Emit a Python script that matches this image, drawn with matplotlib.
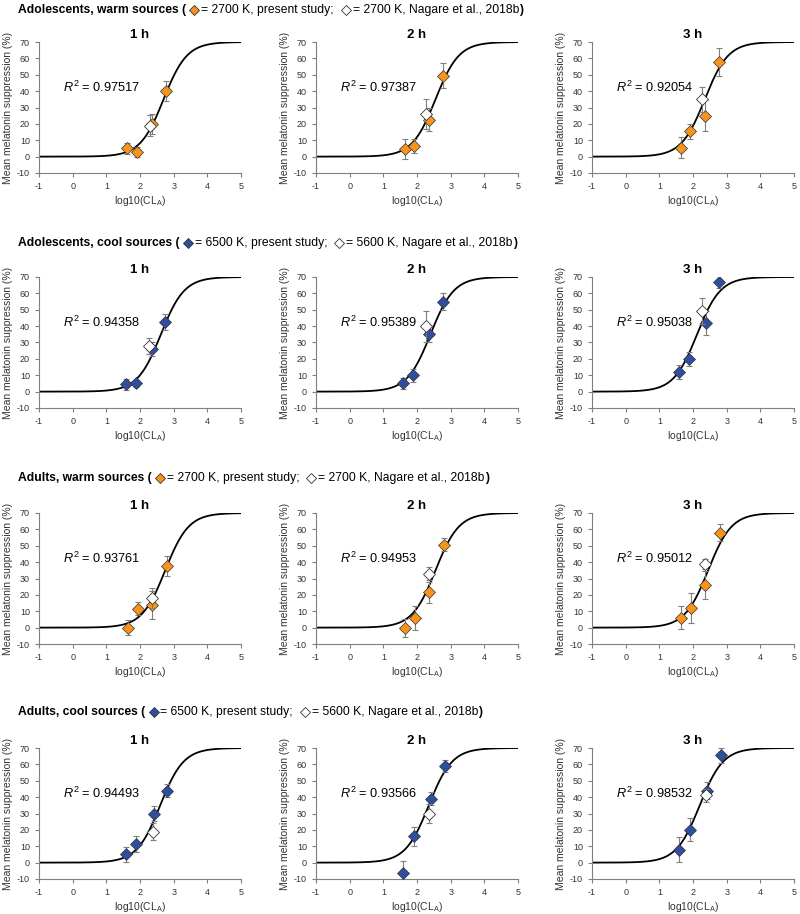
import numpy as np
import matplotlib.pyplot as plt
from matplotlib.lines import Line2D

plt.rcParams['font.family'] = ['Liberation Sans', 'DejaVu Sans']
plt.rcParams['mathtext.fontset'] = 'custom'
plt.rcParams['mathtext.rm'] = 'Liberation Sans'
plt.rcParams['mathtext.it'] = 'Liberation Sans:italic'
plt.rcParams['axes.unicode_minus'] = False

ORANGE = '#F7941D'
BLUE = '#2F4E9F'

# ---- data (row-major: 4 groups x 3 durations) ----
groups = ['Adolescents, warm sources', 'Adolescents, cool sources',
          'Adults, warm sources', 'Adults, cool sources']
cct_present = ['2700 K', '6500 K', '2700 K', '6500 K']
cct_nagare = ['2700 K', '5600 K', '2700 K', '5600 K']
group_colors = [ORANGE, BLUE, ORANGE, BLUE]
durations = ['1 h', '2 h', '3 h']

r2_values = [[0.97517, 0.97387, 0.92054],
             [0.94358, 0.95389, 0.95038],
             [0.93761, 0.94953, 0.95012],
             [0.94493, 0.93566, 0.98532]]

# fitted logistic curve: max suppression, log10(CL_A) at half max, slope
fit_max = 70.0
fit_x50 = [[2.70, 2.55, 2.35],
           [2.62, 2.40, 2.12],
           [2.75, 2.55, 2.45],
           [2.60, 2.35, 2.20]]
fit_slope = 1.25

# present study (filled diamonds)
x_present = [[[1.62, 1.92, 2.37, 2.78], [1.63, 1.92, 2.36, 2.78], [1.63, 1.91, 2.37, 2.78]],
             [[1.58, 1.87, 2.37, 2.75], [1.58, 1.87, 2.37, 2.76], [1.59, 1.88, 2.38, 2.77]],
             [[1.65, 1.95, 2.37, 2.80], [1.65, 1.95, 2.37, 2.80], [1.65, 1.95, 2.37, 2.80]],
             [[1.57, 1.89, 2.42, 2.80], [1.57, 1.90, 2.42, 2.82], [1.57, 1.90, 2.43, 2.82]]]
y_present = [[[5, 3, 20, 40], [4.5, 6.5, 22.5, 49.5], [5.5, 15.5, 25, 58]],
             [[4.5, 5, 26, 42.5], [5, 10, 35, 55], [12, 20, 42, 67]],
             [[0, 11.5, 14, 37.5], [0, 6, 21.5, 50.5], [6, 12, 26, 58]],
             [[5, 11.5, 30, 44], [-6.5, 16, 39, 59], [8, 20, 44, 65.5]]]
e_present = [[[3.5, 3, 6, 6], [6, 4, 7, 7.5], [6.5, 4.5, 9.5, 8.5]],
             [[3.5, 2, 4.5, 5], [3.5, 4, 5, 5], [4, 4.5, 7.5, 3.5]],
             [[4.5, 4, 8.5, 6], [5.5, 7.5, 6.5, 4], [7, 9, 8.5, 5]],
             [[4.5, 5, 4.5, 4], [7.5, 6, 4, 3.5], [7.5, 7, 5, 4.5]]]

# Nagare et al., 2018b (open diamonds)
x_nagare = [[2.30, 2.28, 2.28],
            [2.28, 2.27, 2.27],
            [2.36, 2.37, 2.37],
            [2.38, 2.37, 2.39]]
y_nagare = [[19, 26, 35],
            [28, 40, 49],
            [18, 33, 39],
            [19, 30, 41]]
e_nagare = [[6.5, 9, 7.5],
            [5, 9.5, 8],
            [6, 4, 3],
            [5, 6, 4]]

# ---- layout (pixels) ----
W, H = 800, 914
fig = plt.figure(figsize=(W / 100, H / 100), dpi=100)
col_left = [39, 316, 592]
row_top = [42, 277, 513, 748]
ax_w, ax_h = 202, 131
header_y = [10, 243, 478, 712]

xs = np.linspace(-1, 5, 400)
GRAY = '#7f7f7f'

for i in range(4):
    for j in range(3):
        ax = fig.add_axes([col_left[j] / W, 1 - (row_top[i] + ax_h) / H, ax_w / W, ax_h / H])
        curve = fit_max / (1 + 10 ** (-(xs - fit_x50[i][j]) * fit_slope))
        ax.plot(xs, curve, color='black', lw=1.3, zorder=2)
        ax.errorbar(x_present[i][j], y_present[i][j], yerr=e_present[i][j], fmt='none',
                    ecolor=GRAY, elinewidth=0.8, capsize=2, capthick=0.8, zorder=3)
        ax.plot(x_present[i][j], y_present[i][j], 'D', ms=6, mfc=group_colors[i],
                mec='#333333', mew=0.5, ls='none', zorder=4)
        ax.errorbar([x_nagare[i][j]], [y_nagare[i][j]], yerr=[e_nagare[i][j]], fmt='none',
                    ecolor=GRAY, elinewidth=0.8, capsize=2, capthick=0.8, zorder=5)
        ax.plot([x_nagare[i][j]], [y_nagare[i][j]], 'D', ms=6, mfc='white',
                mec='#333333', mew=0.6, ls='none', zorder=6)

        ax.set_xlim(-1, 5)
        ax.set_ylim(-10, 70)
        ax.set_xticks(range(-1, 6))
        ax.set_yticks(range(-10, 71, 10))
        for s in ['top', 'right']:
            ax.spines[s].set_visible(False)
        for s in ['left', 'bottom']:
            ax.spines[s].set_color(GRAY)
            ax.spines[s].set_linewidth(0.8)
        ax.tick_params(labelsize=6.5, colors=GRAY, labelcolor='#333333', length=3, width=0.8)
        ax.set_ylabel('Mean melatonin suppression (%)', fontsize=7.5, color='#333333', labelpad=3)
        ax.set_xlabel(r'log10(CL$_\mathregular{A}$)', fontsize=7.5, color='#333333', labelpad=2)
        ax.set_title(durations[j], fontsize=9.5, fontweight='bold', pad=3)
        ax.text(0.12, 0.655, r'$\mathit{R}^\mathregular{2}$ = %.5f' % r2_values[i][j],
                transform=ax.transAxes, fontsize=9.2, va='center', ha='left')

# ---- row headers with inline markers ----
renderer = fig.canvas.get_renderer()


def put_text(x, y, s, weight):
    t = fig.text(x / W, 1 - y / H, s, fontsize=8.7, fontweight=weight, va='center', ha='left')
    bb = t.get_window_extent(renderer)
    return x + bb.width


def put_marker(x, y, face):
    fig.add_artist(Line2D([(x + 5) / W], [1 - y / H], marker='D', ms=5.5, mfc=face,
                          mec='#333333', mew=0.6, ls='none', transform=fig.transFigure))
    return x + 12


for i in range(4):
    y = header_y[i]
    x = 18
    x = put_text(x, y, groups[i] + ' ( ', 'bold')
    x = put_marker(x, y, group_colors[i])
    x = put_text(x, y, '= ' + cct_present[i] + ', present study;  ', 'normal')
    x = put_marker(x, y, 'white')
    x = put_text(x, y, '= ' + cct_nagare[i] + ', Nagare et al., 2018b', 'normal')
    put_text(x, y, ')', 'bold')

fig.savefig('out.png', dpi=100)
